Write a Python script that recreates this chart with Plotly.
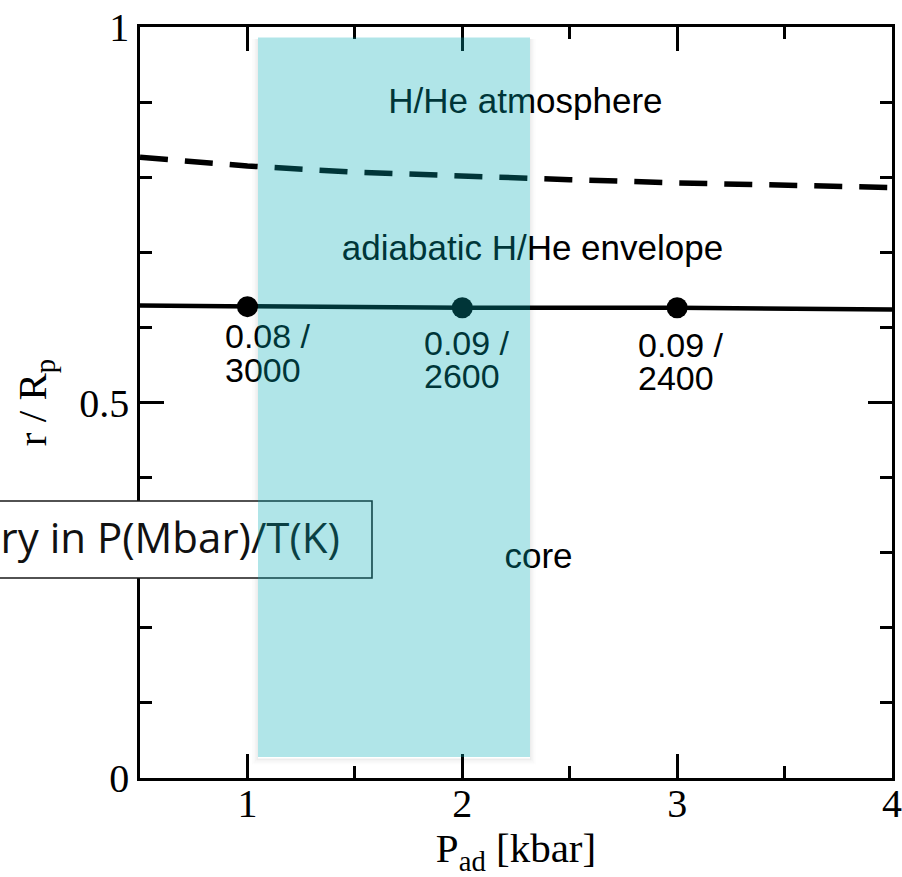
import plotly.graph_objects as go

# Boundary pressure P_ad [kbar] at the three computed models
P_models = [1, 2, 3]
r_models = [0.6276, 0.6262, 0.6262]
# core boundary line (solid)
P_core_line = [0.5, 1, 2, 3, 4]
r_core_line = [0.6290, 0.6276, 0.6262, 0.6262, 0.6240]
# atmosphere / envelope transition (dashed)
P_atm_line = [0.5, 1.0, 1.5, 2.0, 2.5, 3.0, 3.5, 4.0]
r_atm_line = [0.8266, 0.8149, 0.8067, 0.8009, 0.7967, 0.7924, 0.7892, 0.7863]
# P(Mbar) / T(K) at the core boundary, one entry per model
boundary_P = ["0.08 /", "0.09 /", "0.09 /"]
boundary_T = ["3000", "2600", "2400"]
# region names
region_names = ["H/He atmosphere", "adiabatic H/He envelope", "core"]

SERIF = "Liberation Serif, Times New Roman, serif"
SANS = "Liberation Sans, Arial, Helvetica, sans-serif"

X_RANGE = [0.5, 4]
Y_RANGE = [0, 1]
WIDTH, HEIGHT = 902, 877
MARGIN = dict(l=140, r=10, t=27, b=99)
px_x = (X_RANGE[1] - X_RANGE[0]) / (WIDTH - MARGIN["l"] - MARGIN["r"])
px_y = (Y_RANGE[1] - Y_RANGE[0]) / (HEIGHT - MARGIN["t"] - MARGIN["b"])

fig = go.Figure()

fig.add_trace(go.Scatter(
    x=P_atm_line, y=r_atm_line, mode="lines",
    line=dict(color="black", width=5.5, dash="28px,17px"),
    showlegend=False, hoverinfo="skip"))

fig.add_trace(go.Scatter(
    x=P_core_line, y=r_core_line, mode="lines",
    line=dict(color="black", width=4.5),
    showlegend=False, hoverinfo="skip"))

fig.add_trace(go.Scatter(
    x=P_models, y=r_models, mode="markers",
    marker=dict(color="black", size=21, line=dict(width=0)),
    showlegend=False, hoverinfo="skip"))

# two-line labels under each model point
lab_x = [0.8956, 1.8218, 2.8178]
lab_y1 = [0.5839, 0.5746, 0.5719]
lab_y2 = [0.5386, 0.5306, 0.5280]
fig.add_trace(go.Scatter(
    x=lab_x + lab_x, y=lab_y1 + lab_y2, mode="text",
    text=boundary_P + boundary_T, textposition="middle right",
    textfont=dict(family=SANS, size=34, color="black"),
    cliponaxis=False, showlegend=False, hoverinfo="skip"))

# region labels
fig.add_trace(go.Scatter(
    x=[2.294, 2.3268, 2.3547], y=[0.8968, 0.7011, 0.2909], mode="text",
    text=region_names, textposition="middle center",
    textfont=dict(family=SANS, size=35, color="black"),
    cliponaxis=False, showlegend=False, hoverinfo="skip"))

# boxed note, partly outside the figure on the left
fig.add_shape(
    type="rect", xref="paper", yref="paper",
    x0=-0.30, x1=0.3085, y0=0.2663, y1=0.3688,
    fillcolor="white", line=dict(color="#1a1a1a", width=1.6), layer="above",
    label=dict(text="ry in P(Mbar)/T(K)", textposition="middle right", padding=29,
               font=dict(family="Open Sans, Calibri, sans-serif", size=42, color="#111111")))

# highlighted pressure band: soft drop shadow, then translucent cyan over everything
band = dict(x0=1.0492, x1=2.3151, y0=0.028, y1=0.986)
for k, alpha in enumerate([0.07, 0.045, 0.025, 0.01]):
    d_in, d_out = k * 1.5, (k + 1) * 1.5
    dx_in, dx_out = d_in * px_x, d_out * px_x
    dy_in, dy_out = d_in * px_y, d_out * px_y
    off = 1.5 * px_y  # shadow sits slightly lower
    col = f"rgba(0,0,0,{alpha})"
    strips = [
        (band["x0"] - dx_out, band["x0"] - dx_in, band["y0"] - dy_out - off, band["y1"] - off),
        (band["x1"] + dx_in, band["x1"] + dx_out, band["y0"] - dy_out - off, band["y1"] - off),
        (band["x0"] - dx_in, band["x1"] + dx_in, band["y0"] - dy_out - off, band["y0"] - dy_in - off),
    ]
    for x0, x1, y0, y1 in strips:
        fig.add_shape(type="rect", xref="x", yref="y", x0=x0, x1=x1, y0=y0, y1=y1,
                      fillcolor=col, line=dict(width=0), layer="below")

fig.add_shape(
    type="rect", xref="x", yref="y", **band,
    fillcolor="rgba(0,171,181,0.31)", line=dict(width=0), layer="above")

axis_common = dict(
    showline=True, linecolor="black", linewidth=2.6, mirror="ticks",
    ticks="inside", ticklen=24, tickwidth=2.6, tickcolor="black",
    showgrid=False, zeroline=False,
    tickfont=dict(family=SERIF, size=40, color="black"),
)

fig.update_xaxes(
    range=X_RANGE, tick0=0, dtick=1, ticklabelstandoff=-12,
    minor=dict(dtick=0.5, ticks="inside", ticklen=12, tickwidth=2.6, tickcolor="black", showgrid=False),
    title=dict(text="P<sub>ad</sub> [kbar]", font=dict(family=SERIF, size=41, color="black"), standoff=4),
    **axis_common)
fig.update_yaxes(
    range=Y_RANGE, tick0=0, dtick=0.5,
    minor=dict(dtick=0.1, ticks="inside", ticklen=12, tickwidth=2.6, tickcolor="black", showgrid=False),
    title=dict(text="r / R<sub>p</sub>", font=dict(family=SERIF, size=41, color="black"), standoff=20),
    **axis_common)

fig.update_layout(
    width=WIDTH, height=HEIGHT,
    margin=dict(**MARGIN, autoexpand=False),
    paper_bgcolor="white", plot_bgcolor="white",
    showlegend=False,
)

fig.write_html("out.html")
